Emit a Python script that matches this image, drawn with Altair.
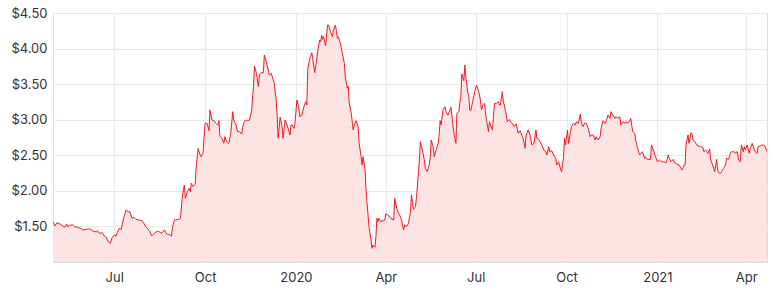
import altair as alt
import pandas as pd

dates = [
    "2019-04-30","2019-05-02","2019-05-04","2019-05-07","2019-05-10","2019-05-12","2019-05-14","2019-05-15",
    "2019-05-17","2019-05-20","2019-05-22","2019-05-25","2019-05-29","2019-05-30","2019-06-03","2019-06-06",
    "2019-06-09","2019-06-13","2019-06-14","2019-06-16","2019-06-19","2019-06-21","2019-06-23","2019-06-25",
    "2019-06-27","2019-06-29","2019-07-01","2019-07-03","2019-07-04","2019-07-06","2019-07-08","2019-07-09",
    "2019-07-11","2019-07-13","2019-07-15","2019-07-17","2019-07-19","2019-07-21","2019-07-23","2019-07-26",
    "2019-07-29","2019-07-31","2019-08-02","2019-08-04","2019-08-06","2019-08-08","2019-08-10","2019-08-12",
    "2019-08-15","2019-08-18","2019-08-21","2019-08-23","2019-08-26","2019-08-28","2019-08-29",
    "2019-08-31","2019-09-04","2019-09-06","2019-09-08","2019-09-10","2019-09-11","2019-09-13","2019-09-15",
    "2019-09-16","2019-09-17","2019-09-19","2019-09-21","2019-09-22","2019-09-24","2019-09-26","2019-09-27",
    "2019-09-29","2019-09-30","2019-10-01","2019-10-03","2019-10-05","2019-10-06","2019-10-08","2019-10-10",
    "2019-10-12","2019-10-14","2019-10-15","2019-10-16","2019-10-18","2019-10-20","2019-10-21","2019-10-23",
    "2019-10-25","2019-10-27","2019-10-29","2019-10-30","2019-11-01","2019-11-03","2019-11-05","2019-11-07",
    "2019-11-09","2019-11-11","2019-11-13","2019-11-15","2019-11-17","2019-11-19","2019-11-20","2019-11-22",
    "2019-11-24","2019-11-25","2019-11-27","2019-11-29","2019-11-30","2019-12-02","2019-12-04","2019-12-05",
    "2019-12-07","2019-12-09","2019-12-10","2019-12-12","2019-12-13","2019-12-14","2019-12-16","2019-12-18",
    "2019-12-19","2019-12-21","2019-12-23","2019-12-24","2019-12-26","2019-12-27",
    "2019-12-28","2019-12-30","2019-12-31","2020-01-02","2020-01-04","2020-01-05","2020-01-07","2020-01-09",
    "2020-01-11","2020-01-12","2020-01-13","2020-01-15","2020-01-17","2020-01-18","2020-01-20","2020-01-22",
    "2020-01-23","2020-01-25","2020-01-26","2020-01-27","2020-01-28","2020-01-29","2020-01-31","2020-02-02",
    "2020-02-03","2020-02-05","2020-02-07","2020-02-08","2020-02-10","2020-02-12","2020-02-13","2020-02-15",
    "2020-02-17","2020-02-19","2020-02-20","2020-02-22","2020-02-23","2020-02-24","2020-02-26","2020-02-28",
    "2020-02-29","2020-03-02","2020-03-04","2020-03-05","2020-03-07","2020-03-08","2020-03-09","2020-03-11",
    "2020-03-12","2020-03-13","2020-03-15","2020-03-17","2020-03-18","2020-03-19","2020-03-21","2020-03-22",
    "2020-03-23","2020-03-24","2020-03-25","2020-03-27","2020-03-29","2020-03-31","2020-04-01","2020-04-03",
    "2020-04-05","2020-04-06","2020-04-09","2020-04-10","2020-04-12","2020-04-14","2020-04-15","2020-04-17",
    "2020-04-19","2020-04-20","2020-04-22","2020-04-24","2020-04-26","2020-04-27",
    "2020-04-29","2020-05-01","2020-05-02","2020-05-04","2020-05-05","2020-05-06","2020-05-08","2020-05-10",
    "2020-05-11","2020-05-13","2020-05-15","2020-05-16","2020-05-17","2020-05-19","2020-05-20","2020-05-22",
    "2020-05-24","2020-05-25","2020-05-26","2020-05-27","2020-05-29","2020-05-31","2020-06-01","2020-06-03",
    "2020-06-05","2020-06-06","2020-06-08","2020-06-09","2020-06-11","2020-06-12","2020-06-14","2020-06-15",
    "2020-06-16","2020-06-17","2020-06-19","2020-06-20","2020-06-21","2020-06-23","2020-06-24","2020-06-25",
    "2020-06-26","2020-06-30","2020-07-02","2020-07-04","2020-07-05","2020-07-07","2020-07-08","2020-07-10",
    "2020-07-11","2020-07-12","2020-07-14","2020-07-15","2020-07-16","2020-07-18","2020-07-19","2020-07-20",
    "2020-07-22","2020-07-24","2020-07-25","2020-07-26","2020-07-28","2020-07-29","2020-07-30","2020-08-01",
    "2020-08-02","2020-08-04","2020-08-06","2020-08-07","2020-08-09","2020-08-11","2020-08-12","2020-08-13",
    "2020-08-15","2020-08-16","2020-08-18","2020-08-20","2020-08-21","2020-08-23","2020-08-25",
    "2020-08-26","2020-08-27","2020-08-29","2020-08-31","2020-09-01","2020-09-03","2020-09-05","2020-09-06",
    "2020-09-08","2020-09-10","2020-09-11","2020-09-13","2020-09-14","2020-09-16","2020-09-18","2020-09-20",
    "2020-09-21","2020-09-23","2020-09-25","2020-09-26","2020-09-28","2020-09-29","2020-09-30","2020-10-02",
    "2020-10-03","2020-10-05","2020-10-06","2020-10-08","2020-10-10","2020-10-11","2020-10-13","2020-10-15",
    "2020-10-16","2020-10-18","2020-10-19","2020-10-21","2020-10-23","2020-10-25","2020-10-26","2020-10-28",
    "2020-10-30","2020-10-31","2020-11-02","2020-11-04","2020-11-05","2020-11-07","2020-11-09","2020-11-10",
    "2020-11-12","2020-11-14","2020-11-15","2020-11-17","2020-11-19","2020-11-20","2020-11-22","2020-11-24",
    "2020-11-25","2020-11-27","2020-11-29","2020-11-30","2020-12-02","2020-12-04","2020-12-05","2020-12-07",
    "2020-12-09","2020-12-10","2020-12-12","2020-12-14","2020-12-15","2020-12-17","2020-12-19","2020-12-20",
    "2020-12-22",
    "2020-12-25","2020-12-26","2020-12-28","2020-12-30","2021-01-01","2021-01-03","2021-01-05","2021-01-07",
    "2021-01-10","2021-01-12","2021-01-13","2021-01-15","2021-01-17","2021-01-19","2021-01-21","2021-01-23",
    "2021-01-25","2021-01-26","2021-01-28","2021-01-29","2021-01-30","2021-02-01","2021-02-02","2021-02-04",
    "2021-02-05","2021-02-06","2021-02-08","2021-02-09","2021-02-11","2021-02-12","2021-02-14","2021-02-16",
    "2021-02-17","2021-02-19","2021-02-21","2021-02-23","2021-02-24","2021-02-26","2021-02-28","2021-03-02",
    "2021-03-03","2021-03-04","2021-03-06","2021-03-07","2021-03-09","2021-03-11","2021-03-12","2021-03-14",
    "2021-03-16","2021-03-17","2021-03-19","2021-03-21","2021-03-23","2021-03-24","2021-03-26","2021-03-27",
    "2021-03-29","2021-03-30","2021-03-31","2021-04-02","2021-04-04","2021-04-05","2021-04-07","2021-04-08",
    "2021-04-10","2021-04-12","2021-04-13","2021-04-15","2021-04-17","2021-04-18","2021-04-20","2021-04-22",
]

prices = [
    1.566,1.506,1.552,1.534,1.506,1.488,1.534,1.496,
    1.515,1.524,1.496,1.488,1.468,1.450,1.459,1.468,
    1.440,1.420,1.440,1.403,1.412,1.365,1.347,1.285,
    1.263,1.347,1.380,1.365,1.412,1.474,1.459,1.520,
    1.637,1.731,1.707,1.703,1.614,1.628,1.600,1.590,
    1.581,1.544,1.496,1.468,1.426,1.365,1.394,1.422,
    1.431,1.403,1.450,1.394,1.384,1.365,1.488,
    1.590,1.600,1.614,1.918,2.082,1.895,1.988,2.035,
    1.988,2.106,2.059,2.096,2.340,2.598,2.504,2.480,
    2.536,2.761,2.950,2.950,2.846,3.137,2.996,2.986,
    2.950,2.921,2.986,2.771,2.739,2.668,2.761,2.691,
    2.668,2.809,3.113,2.996,2.940,2.832,2.832,2.800,
    2.950,2.996,2.986,2.996,3.113,3.464,3.755,3.652,
    3.464,3.628,3.661,3.661,3.910,3.815,3.699,3.628,
    3.652,3.558,3.512,3.277,3.042,2.739,3.034,2.902,
    2.739,2.996,2.926,2.879,2.785,2.926,
    2.926,2.879,2.950,3.277,3.160,3.042,3.066,3.183,
    3.253,3.207,3.722,3.863,3.942,3.863,3.661,3.839,
    3.956,4.120,4.097,4.190,4.130,4.167,4.036,4.331,
    4.331,4.237,4.167,4.260,4.331,4.144,4.167,4.074,
    3.933,3.793,3.605,3.441,3.474,3.230,3.090,2.855,
    2.926,2.986,2.902,2.668,2.480,2.363,2.480,2.293,
    2.012,1.825,1.496,1.309,1.192,1.239,1.206,1.356,
    1.614,1.567,1.614,1.567,1.581,1.590,1.675,1.660,
    1.637,1.614,1.590,1.895,1.754,1.684,1.660,1.590,
    1.450,1.520,1.496,1.544,1.707,1.942,
    1.741,1.778,1.895,2.247,2.434,2.691,2.574,2.434,
    2.317,2.270,2.363,2.480,2.715,2.621,2.480,2.574,
    2.668,2.785,2.986,2.926,3.146,3.183,3.113,3.066,
    3.137,3.174,2.926,2.809,2.668,3.090,3.113,3.253,
    3.324,3.643,3.549,3.769,3.605,3.371,3.347,3.137,
    3.127,3.394,3.488,3.394,3.347,3.137,3.207,3.230,
    3.090,2.996,2.832,2.972,2.926,2.855,3.042,3.230,
    3.230,3.253,3.207,3.207,3.394,3.253,3.207,3.066,
    2.972,3.005,2.958,2.950,2.902,2.940,2.879,2.809,
    2.846,2.809,2.739,2.598,2.771,2.855,2.785,
    2.715,2.645,2.668,2.855,2.739,2.725,2.668,2.645,
    2.574,2.550,2.504,2.621,2.550,2.565,2.504,2.457,
    2.363,2.410,2.303,2.270,2.480,2.739,2.645,2.855,
    2.668,2.832,2.902,2.950,2.926,2.972,2.950,3.080,
    2.950,2.902,2.950,2.950,2.879,2.761,2.785,2.785,
    2.715,2.761,2.715,2.761,2.879,2.986,2.950,2.972,
    3.066,3.020,3.113,3.066,3.020,3.042,3.020,3.042,
    2.926,2.972,2.950,2.972,2.950,2.986,3.020,2.832,
    2.809,2.715,2.598,2.504,2.527,2.550,2.457,2.480,
    2.443,
    2.443,2.645,2.574,2.480,2.410,2.434,2.410,2.410,
    2.396,2.504,2.457,2.410,2.443,2.387,2.373,2.363,
    2.317,2.293,2.363,2.363,2.645,2.785,2.668,2.817,
    2.809,2.715,2.691,2.668,2.630,2.630,2.621,2.612,
    2.550,2.574,2.527,2.584,2.434,2.363,2.270,2.443,
    2.293,2.256,2.247,2.270,2.317,2.363,2.457,2.443,
    2.527,2.550,2.550,2.536,2.550,2.434,2.410,2.645,
    2.550,2.621,2.574,2.645,2.527,2.598,2.668,2.621,
    2.550,2.527,2.621,2.630,2.645,2.645,2.630,2.550,
]

y_ticks = [1.5, 2.0, 2.5, 3.0, 3.5, 4.0, 4.5]
x_ticks = ["2019-07-01", "2019-10-01", "2020-01-01", "2020-04-01",
           "2020-07-01", "2020-10-01", "2021-01-01", "2021-04-01"]
y_floor = 1.0

df = pd.DataFrame({"date": dates, "price": prices})
df["base"] = y_floor

FONT = "Inter"
LINE = "#f5181e"
FILL = "#fde4e4"

x_vals = [alt.DateTime(year=int(s[:4]), month=int(s[5:7]), date=int(s[8:10]), utc=True) for s in x_ticks]

x_enc = alt.X(
    "date:T",
    scale=alt.Scale(type="utc",
                    domain=[alt.DateTime(year=2019, month=4, date=30, utc=True),
                            alt.DateTime(year=2021, month=4, date=22, utc=True)]),
    axis=alt.Axis(
        values=x_vals,
        labelExpr="utcmonth(datum.value) == 0 ? utcFormat(datum.value, '%Y') : utcFormat(datum.value, '%b')",
        title=None, grid=True, ticks=False, domain=False,
        labelPadding=9, labelFont=FONT, labelFontSize=13, labelColor="#333333",
        gridColor="#e8e8e8",
    ),
)
y_enc = alt.Y(
    "price:Q",
    scale=alt.Scale(domain=[1.0, 4.5], nice=False, zero=False),
    axis=alt.Axis(
        values=y_ticks, format="$.2f", title=None, grid=True, ticks=False,
        domain=False, labelPadding=6, labelFont=FONT, labelFontSize=13,
        labelColor="#333333", gridColor="#e8e8e8",
    ),
)

base = alt.Chart(df)
area = base.mark_area(color=FILL, opacity=1, clip=True).encode(x=x_enc, y=y_enc, y2="base:Q")
line = base.mark_line(color=LINE, strokeWidth=1, clip=True).encode(x="date:T", y="price:Q")

chart = (
    alt.layer(area, line)
    .properties(
        width=714, height=249,
        autosize=alt.AutoSizeParams(type="none"),
        padding={"left": 53, "top": 13, "right": 6, "bottom": 36},
    )
    .configure_view(stroke="#e3e3e3", strokeWidth=1)
    .configure(background="white")
)

chart.save("out.html", embed_options={"renderer": "svg", "actions": False})
